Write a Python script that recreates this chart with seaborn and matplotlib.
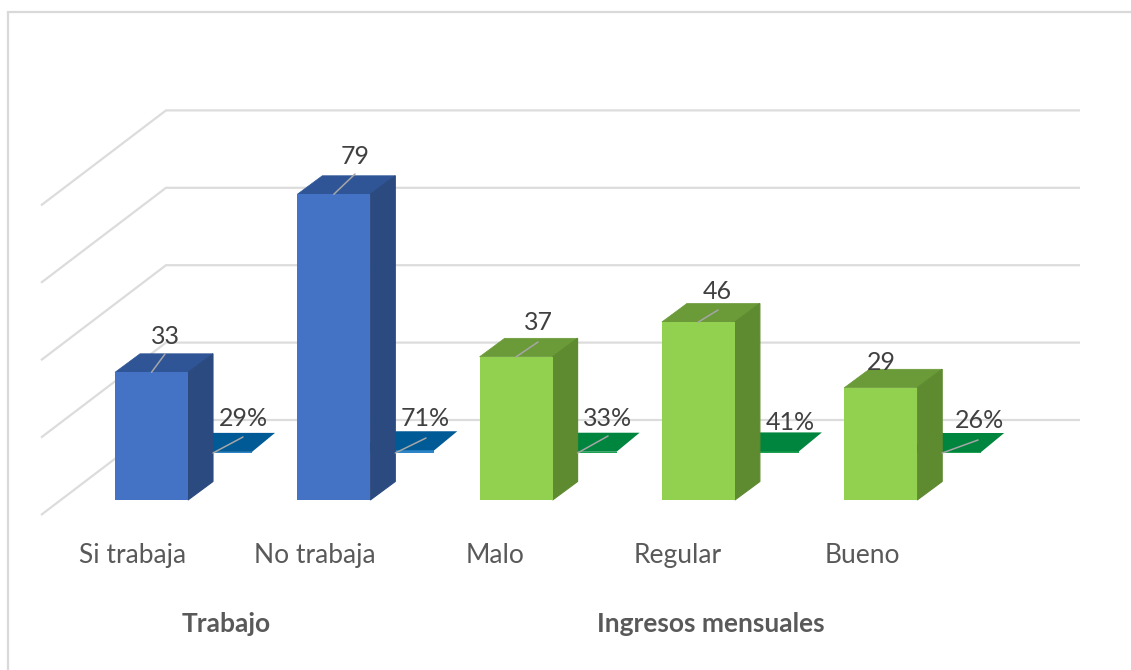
import matplotlib
matplotlib.use("Agg")
import matplotlib.pyplot as plt
from matplotlib.patches import Polygon, Rectangle
import numpy as np
import pandas as pd
import seaborn as sns

# ---- data ----
categories = ["Si trabaja", "No trabaja", "Malo", "Regular", "Bueno"]
counts = [33, 79, 37, 46, 29]
shares = [0.29, 0.71, 0.33, 0.41, 0.26]
share_labels = ["29%", "71%", "33%", "41%", "26%"]
groups = ["Trabajo", "Trabajo", "Ingresos mensuales", "Ingresos mensuales", "Ingresos mensuales"]
grid_values = [0, 20, 40, 60, 80]

# ---- style / layout ----
W, H = 1131, 670
PX_PER_X, PX_PER_Y = 182.3, 3.87
X0_PX, Y0_PX = 151.5, 500.0          # pixel of category 0 / value 0
AX_BOTTOM_PX = 522.0
front = {"Trabajo": "#4472C4", "Ingresos mensuales": "#92D050"}
top = {"Trabajo": "#2F5597", "Ingresos mensuales": "#6B9A38"}
side = {"Trabajo": "#2A4A80", "Ingresos mensuales": "#5E8A30"}
flat_top = {"Trabajo": "#005A96", "Ingresos mensuales": "#00853E"}
flat_front = {"Trabajo": "#2E86C8", "Ingresos mensuales": "#1FA050"}
TEXT = "#404040"
GRID = "#DCDCDC"
LEAD = "#A6A6A6"
FONT = "Lato"

def xd(px):
    return (px - X0_PX) / PX_PER_X

def yd(py):
    return (Y0_PX - py) / PX_PER_Y

dx_px = lambda p: p / PX_PER_X
dy_px = lambda p: p / PX_PER_Y

sns.set_theme(style="white")
plt.rcParams["font.family"] = [FONT, "DejaVu Sans"]

fig = plt.figure(figsize=(W / 100, H / 100), dpi=100)
ax = fig.add_axes([0, (H - AX_BOTTOM_PX) / H, 1, AX_BOTTOM_PX / H])

df = pd.DataFrame({"cat": categories, "count": counts, "share": shares, "group": groups})
bar_w = 73.0 / PX_PER_X

# back wall and side grid lines
for v in grid_values:
    ax.plot([xd(41), xd(166), xd(1080)],
            [v + yd(515), v + yd(420), v + yd(420)],
            color=GRID, lw=1.6, zorder=1, solid_capstyle="butt", solid_joinstyle="miter")

# flat percentage bars, set further back in the depth direction
n_before = len(ax.patches)
sns.barplot(data=df, x="cat", y="share", hue="group", dodge=False, palette=flat_front,
            width=bar_w, legend=False, ax=ax, zorder=2, saturation=1)
flat_patches = [p for p in ax.patches[n_before:] if p.get_width() > 0 and p.get_height() > 0]
flat_patches.sort(key=lambda p: p.get_x())
shift_x, shift_y = dx_px(64), dy_px(500 - 453)
for p, g in zip(flat_patches, groups):
    p.set_x(p.get_x() + shift_x)
    p.set_y(p.get_y() + shift_y)
    p.set_linewidth(0)
    x0, w, y0, h = p.get_x(), p.get_width(), p.get_y(), p.get_height()
    ddx, ddy = dx_px(23), dy_px(19)
    ax.add_patch(Polygon([(x0, y0 + h), (x0 + w, y0 + h), (x0 + w + ddx, y0 + h + ddy), (x0 + ddx, y0 + h + ddy)],
                         closed=True, fc=flat_top[g], ec="none", zorder=2))

# columns: side and top first, front face over them, no seams between faces
n_before = len(ax.patches)
sns.barplot(data=df, x="cat", y="count", hue="group", dodge=False, palette=front,
            width=bar_w, legend=False, ax=ax, zorder=3.5, saturation=1)
col_patches = [p for p in ax.patches[n_before:] if p.get_width() > 0 and p.get_height() > 0]
col_patches.sort(key=lambda p: p.get_x())
ddx, ddy = dx_px(25), dy_px(18.5)
for p, g in zip(col_patches, groups):
    p.set_linewidth(0)
    x0, w, h = p.get_x(), p.get_width(), p.get_height()
    ax.add_patch(Polygon([(x0, h), (x0 + w, h), (x0 + w + ddx, h + ddy), (x0 + ddx, h + ddy)],
                         closed=True, fc=top[g], ec=top[g], lw=0.5, zorder=3))
    ax.add_patch(Polygon([(x0 + w, 0), (x0 + w + ddx, ddy), (x0 + w + ddx, h + ddy), (x0 + w, h)],
                         closed=True, fc=side[g], ec=side[g], lw=0.8, zorder=3.2))

# labels with leader lines: pixel layout of text centres and leader ends
count_label_px = [(165, 337), (355, 156), (538, 323), (717, 292), (881, 362)]
count_lead_px = [(165, 354), (355, 174), (538, 342), (718, 310), None]
share_label_px = [(243, 419), (425, 419), (608, 419), (790, 423), (979, 421)]
share_lead_px = [(243, 437), (426, 438), (608, 436), None, (978, 440)]

for i, (p, c) in enumerate(zip(col_patches, counts)):
    lx, ly = count_label_px[i]
    ax.text(xd(lx), yd(ly), str(c), ha="center", va="center", fontsize=18, color=TEXT, zorder=6)
    if count_lead_px[i] is not None:
        ex, ey = count_lead_px[i]
        ax.plot([p.get_x() + p.get_width() / 2, xd(ex)], [c, yd(ey)], color=LEAD, lw=1.1, zorder=5)

for i, (p, t) in enumerate(zip(col_patches, share_labels)):
    lx, ly = share_label_px[i]
    ax.text(xd(lx), yd(ly), t, ha="center", va="center", fontsize=18, color=TEXT, zorder=6)
    if share_lead_px[i] is not None:
        ex, ey = share_lead_px[i]
        sx = p.get_x() + p.get_width() + ddx
        ax.plot([sx, xd(ex)], [yd(453), yd(ey)], color=LEAD, lw=1.1, zorder=5)

# axes and category labels
ax.set_xlim(xd(0), xd(W))
ax.set_ylim(yd(AX_BOTTOM_PX), yd(0))
ax.set_xlabel("")
ax.set_ylabel("")
ax.set_yticks([])
ax.set_xticks(np.arange(len(categories)) + dx_px(-18.5) + np.array([0, 0, -2.5, -2, 0]) / PX_PER_X, categories)
ax.tick_params(axis="x", length=0, pad=15, labelsize=19, labelcolor="#595959")
for s in ax.spines.values():
    s.set_visible(False)
ax.patch.set_alpha(0)

# group titles
for name, cx in [("Trabajo", 226), ("Ingresos mensuales", 711)]:
    fig.text(cx / W, 1 - 624 / H, name, ha="center", va="center", fontsize=19,
             fontweight="bold", color="#595959")

# frame round the chart
fig.add_artist(Rectangle((7.5 / W, -0.01), 1.2, 1 - 12 / H + 0.01, transform=fig.transFigure,
                         fc="none", ec="#D9D9D9", lw=1.6))

fig.savefig("out.png", dpi=100)
